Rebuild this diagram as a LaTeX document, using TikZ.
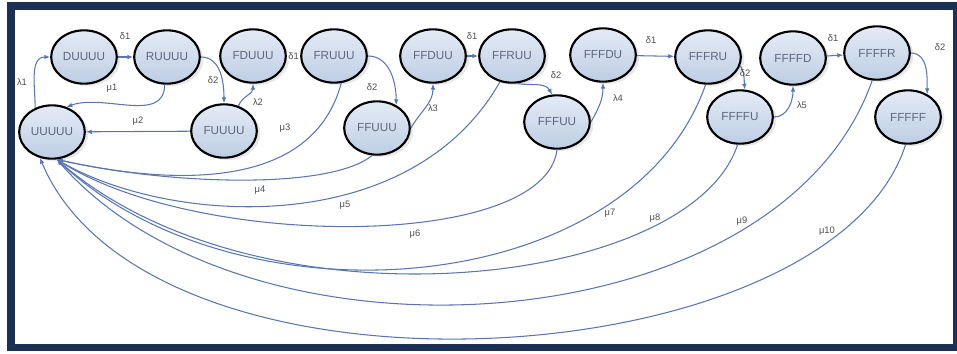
\documentclass[tikz,border=0pt]{standalone}
\usepackage{fontspec}
\setmainfont{Liberation Sans}
\usetikzlibrary{arrows.meta,shapes.geometric,shadows}
\definecolor{framenavy}{RGB}{27,48,84}
\definecolor{statefill}{RGB}{190,205,228}
\definecolor{statetop}{RGB}{228,235,246}
\definecolor{statetext}{RGB}{95,105,125}
\definecolor{arcblue}{RGB}{88,118,178}
\tikzset{
  state/.style={ellipse, draw=black, line width=1.8pt, minimum width=1.97cm, minimum height=1.6cm,
    inner sep=0pt, top color=statetop, bottom color=statefill, text=statetext,
    font=\fontsize{10}{11}\selectfont,
    drop shadow={opacity=0.18, shadow xshift=3pt, shadow yshift=-2pt}},
  move/.style={draw=arcblue, line width=0.9pt, -{Latex[length=5pt,width=4pt]}},
  lbl/.style={font=\fontsize{8}{9}\selectfont, text=black!70, inner sep=1pt}
}
\begin{document}
\begin{tikzpicture}[x=0.03cm, y=-0.03cm]
\useasboundingbox (0,0) rectangle (957,353);
\draw[framenavy, line width=6.8pt] (11,6) rectangle (957,347.5);

\node[state] (UUUUU) at (52,132) {UUUUU};
\node[state] (DUUUU) at (84,57) {DUUUU};
\node[state] (RUUUU) at (167,57) {RUUUU};
\node[state] (FUUUU) at (224,131) {FUUUU};
\node[state] (FDUUU) at (253,56) {FDUUU};
\node[state] (FRUUU) at (334,56) {FRUUU};
\node[state] (FFUUU) at (377,128) {FFUUU};
\node[state] (FFDUU) at (433,56) {FFDUU};
\node[state] (FFRUU) at (512,56) {FFRUU};
\node[state] (FFFUU) at (557,122) {FFFUU};
\node[state] (FFFDU) at (603,55) {FFFDU};
\node[state] (FFFRU) at (708,57) {FFFRU};
\node[state] (FFFFU) at (740,117) {FFFFU};
\node[state] (FFFFD) at (793,58) {FFFFD};
\node[state] (FFFFR) at (877,53) {FFFFR};
\node[state] (FFFFF) at (908,117) {FFFFF};

\draw[move] (DUUUU) -- (RUUUU) node[lbl] at (125,36) {δ1};
\draw[move] (FDUUU) -- (FRUUU) node[lbl, midway, fill=white] {δ1};
\draw[move] (FFDUU) -- (FFRUU) node[lbl] at (472,36) {δ1};
\draw[move] (FFFDU) -- (FFFRU) node[lbl] at (651,40) {δ1};
\draw[move] (FFFFD) -- (FFFFR) node[lbl] at (833,38) {δ1};

\draw[move] (RUUUU.east) to[out=0,in=90] (FUUUU.north) node[lbl] at (213,80) {δ2};
\draw[move] (FRUUU.east) to[out=0,in=90] (FFUUU.50) node[lbl] at (372,87) {δ2};
\draw[move] (FFRUU.-80) to[out=-10,in=120] (FFFUU.100) node[lbl] at (556,75) {δ2};
\draw[move] (FFFRU.-15) to[out=-60,in=95] (FFFFU.80) node[lbl] at (745,73) {δ2};
\draw[move] (FFFFR.east) to[out=0,in=90] (FFFFF.50) node[lbl] at (940,47) {δ2};

\draw[move] (UUUUU.125) to[out=90,in=180] (DUUUU.west) node[lbl] at (22,82) {λ1};
\draw[move] (FUUUU.60) to[out=70,in=-90] (FDUUU.south) node[lbl] at (258,102) {λ2};
\draw[move] (FFUUU.east) to[out=60,in=-90] (FFDUU.south) node[lbl] at (433,108) {λ3};
\draw[move] (FFFUU.east) to[out=60,in=-90] (FFFDU.south) node[lbl] at (618,98) {λ4};
\draw[move] (FFFFU.east) to[out=0,in=-90] (FFFFD.south) node[lbl] at (802,105) {λ5};

\draw[move] (RUUUU.-95) to[out=-90,in=20] (UUUUU.60) node[lbl] at (112,88) {μ1};
\draw[move] (FUUUU) -- (UUUUU) node[lbl, midway, above=4pt] {μ2};
\draw[move] (FRUUU.-75) .. controls (310,200) and (150,180) .. (UUUUU.-80) node[lbl] at (285,128) {μ3};
\draw[move] (FFUUU.-100) .. controls (330,190) and (170,185) .. (UUUUU.-80) node[lbl] at (260,190) {μ4};
\draw[move] (FFRUU.-115) .. controls (410,240) and (170,225) .. (UUUUU.-80) node[lbl] at (345,205) {μ5};
\draw[move] (FFFUU.-90) .. controls (545,250) and (200,250) .. (UUUUU.-80) node[lbl] at (415,234) {μ6};
\draw[move] (FFFRU.-95) .. controls (630,300) and (240,330) .. (UUUUU.-80) node[lbl] at (610,213) {μ7};
\draw[move] (FFFFU.-95) .. controls (690,290) and (260,335) .. (UUUUU.-80) node[lbl] at (655,218) {μ8};
\draw[move] (FFFFR.-100) .. controls (780,345) and (250,380) .. (UUUUU.-80) node[lbl] at (742,221) {μ9};
\draw[move] (FFFFF.-95) .. controls (830,380) and (150,420) .. (UUUUU.-115) node[lbl] at (827,231) {μ10};
\end{tikzpicture}
\end{document}
